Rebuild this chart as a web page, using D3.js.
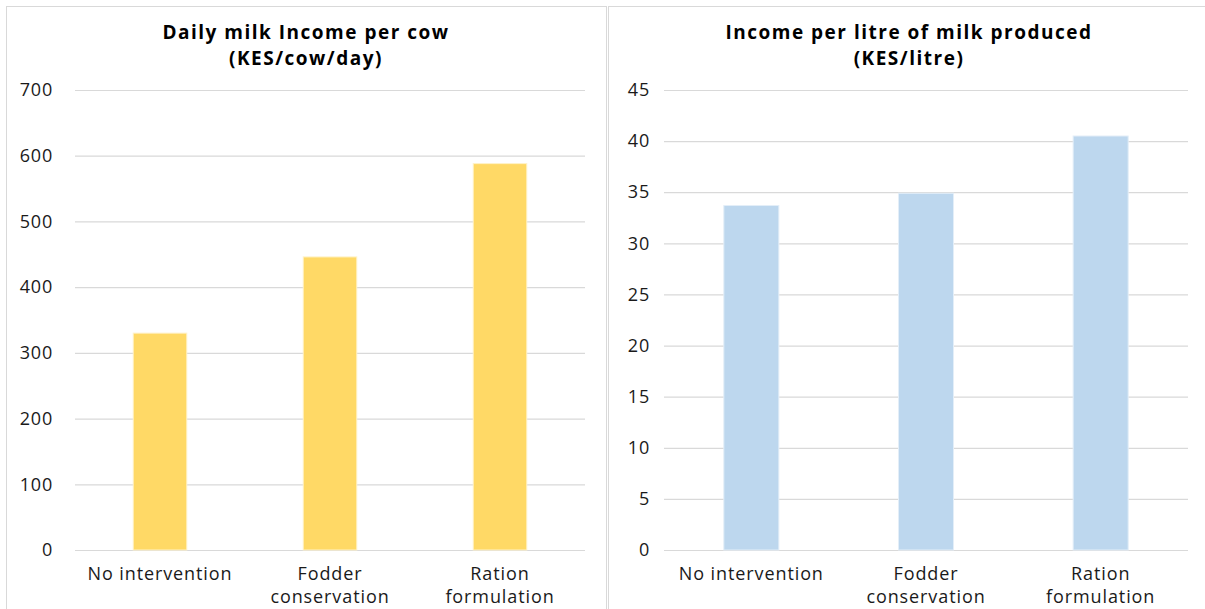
<!DOCTYPE html>
<html>
<head>
<meta charset="utf-8">
<script src="https://cdn.jsdelivr.net/npm/d3@7"></script>
<style>
  html, body { margin: 0; padding: 0; background: #fff; }
  svg { display: block; }
</style>
</head>
<body>
<svg id="chart" width="1205" height="609"></svg>
<script>
// ---- Data ----
const categories = ["No intervention", "Fodder conservation", "Ration formulation"];
const incomePerCow = [330, 446, 588];
const incomePerLitre = [33.7, 34.9, 40.5];
const cowTicks = [0, 100, 200, 300, 400, 500, 600, 700];
const litreTicks = [0, 5, 10, 15, 20, 25, 30, 35, 40, 45];
const titlesLeft = ["Daily milk Income per cow", "(KES/cow/day)"];
const titlesRight = ["Income per litre of milk produced", "(KES/litre)"];

const FONT = "'Open Sans', 'Liberation Sans', sans-serif";
const svg = d3.select("#chart");

function panel(opts) {
  const g = svg.append("g");
  // panel border
  g.append("rect")
    .attr("x", opts.box[0] + 0.5).attr("y", 6.5)
    .attr("width", opts.box[1] - opts.box[0]).attr("height", 620)
    .attr("fill", "#fff").attr("stroke", "#d9d9d9").attr("stroke-width", 1);

  const x = d3.scaleBand().domain(categories)
    .range(opts.xRange).paddingInner(0.685).paddingOuter(0.3425);
  const y = d3.scaleLinear().domain([0, d3.max(opts.ticks)]).range([550, opts.yTop]);

  // gridlines
  const axisG = g.append("g").attr("transform", `translate(${opts.xRange[0]},0)`)
    .call(d3.axisLeft(y).tickValues(opts.ticks)
      .tickSize(-(opts.xRange[1] - opts.xRange[0])).tickPadding(opts.labelGap).tickFormat(d3.format("d")));
  axisG.select(".domain").remove();
  axisG.selectAll(".tick line").attr("stroke", "#d9d9d9").attr("stroke-width", 1.2);
  axisG.selectAll(".tick text").attr("font-family", FONT).attr("font-size", 18)
    .attr("letter-spacing", "0.8px").attr("fill", "#1a1a1a");

  // bars
  g.selectAll("rect.bar").data(opts.values).join("rect")
    .attr("class", "bar")
    .attr("x", (d, i) => x(categories[i]))
    .attr("width", x.bandwidth())
    .attr("y", d => y(d))
    .attr("height", d => y(0) - y(d))
    .attr("fill", opts.color)
    .attr("stroke", opts.edge).attr("stroke-width", 1);

  // category labels (wrapped)
  categories.forEach(c => {
    const cx = x(c) + x.bandwidth() / 2;
    const t = g.append("text")
      .attr("x", cx).attr("y", 580)
      .attr("text-anchor", "middle")
      .attr("font-family", FONT).attr("font-size", 18).attr("letter-spacing", "0.9px")
      .attr("fill", "#1a1a1a")
      .text(c);
    if (t.node().getComputedTextLength() > 155) {
      const words = c.split(" ");
      t.text(null);
      words.forEach((w, k) => {
        t.append("tspan").attr("x", cx).attr("y", 580 + k * 23).text(w);
      });
    }
  });

  // titles
  const cx = (opts.box[0] + opts.box[1]) / 2;
  opts.titles.forEach((s, k) => {
    g.append("text").attr("x", cx).attr("y", 39 + k * 26)
      .attr("text-anchor", "middle")
      .attr("font-family", FONT).attr("font-weight", 700).attr("font-size", 19)
      .attr("letter-spacing", "1.5px")
      .attr("fill", "#000").text(s);
  });
}

panel({ box: [6, 606], xRange: [75, 585], yTop: 90, ticks: cowTicks,
  values: incomePerCow, color: "#ffd966", edge: "#fff2c8", titles: titlesLeft, labelGap: 22 });
panel({ box: [608, 1210], xRange: [664, 1188], yTop: 90, ticks: litreTicks,
  values: incomePerLitre, color: "#bdd7ee", edge: "#e3eef8", titles: titlesRight, labelGap: 14 });
</script>
</body>
</html>
